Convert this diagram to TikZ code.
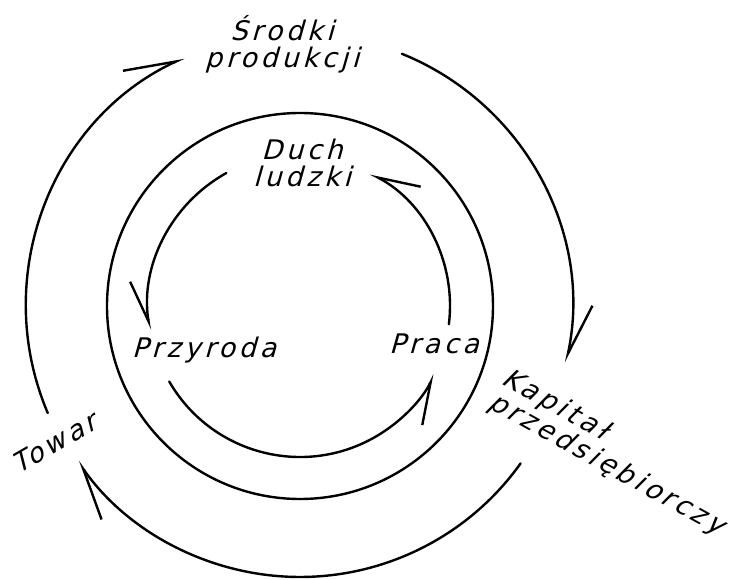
\documentclass[tikz,border=0pt]{standalone}
\usepackage{fontspec}
\newfontfamily\lettering{DejaVu Sans}[FakeSlant=0.28,LetterSpace=14]
\usetikzlibrary{arrows.meta}

\begin{document}
\begin{tikzpicture}[x=1pt,y=1pt,
    flow/.style={line width=2.4pt,line cap=round},
    outer/.style={-{Straight Barb[harpoon,length=52pt,width=28pt]}},
    inner/.style={-{Straight Barb[harpoon,swap,length=42pt,width=24pt]}},
    word/.style={font=\lettering\fontsize{27}{27}\selectfont,align=center,inner sep=0pt}]
  \useasboundingbox (-300,-274) rectangle (440,306);
  \coordinate (c) at (0,0);
  \draw[flow] (c) circle (193);
  % outer cycle
  \coordinate (towarA) at (203:274);
  \coordinate (srodkiA) at (68:272);
  \coordinate (kapitalA) at (-35.5:271);
  \draw[flow,outer] (towarA) arc[start angle=203,end angle=115,radius=274];
  \draw[flow,outer] (srodkiA) arc[start angle=68,end angle=-12,radius=272];
  \draw[flow,outer] (kapitalA) arc[start angle=-35.5,end angle=-145,radius=271];
  % inner cycle
  \coordinate (duchA) at (119:152);
  \coordinate (przyrodaA) at (210:151);
  \coordinate (pracaA) at (-7:150);
  \draw[flow,inner] (duchA) arc[start angle=119,end angle=189,radius=152];
  \draw[flow,inner] (przyrodaA) arc[start angle=210,end angle=333,radius=151];
  \draw[flow,inner] (pracaA) arc[start angle=-7,end angle=62,radius=150];
  % labels
  \node[word] (srodki) at (-18,262) {Środki\\produkcji};
  \node[word] (duch) at (2,143) {Duch\\ludzki};
  \node[word] (przyroda) at (-96,-44) {Przyroda};
  \node[word] (praca) at (134,-38) {Praca};
  \node[word,rotate=30] (towar) at (-246,-137) {Towar};
  \node[word,rotate=-29,align=left] (kapital) at (313,-147) {Kapitał\\przedsiębiorczy};
\end{tikzpicture}
\end{document}
